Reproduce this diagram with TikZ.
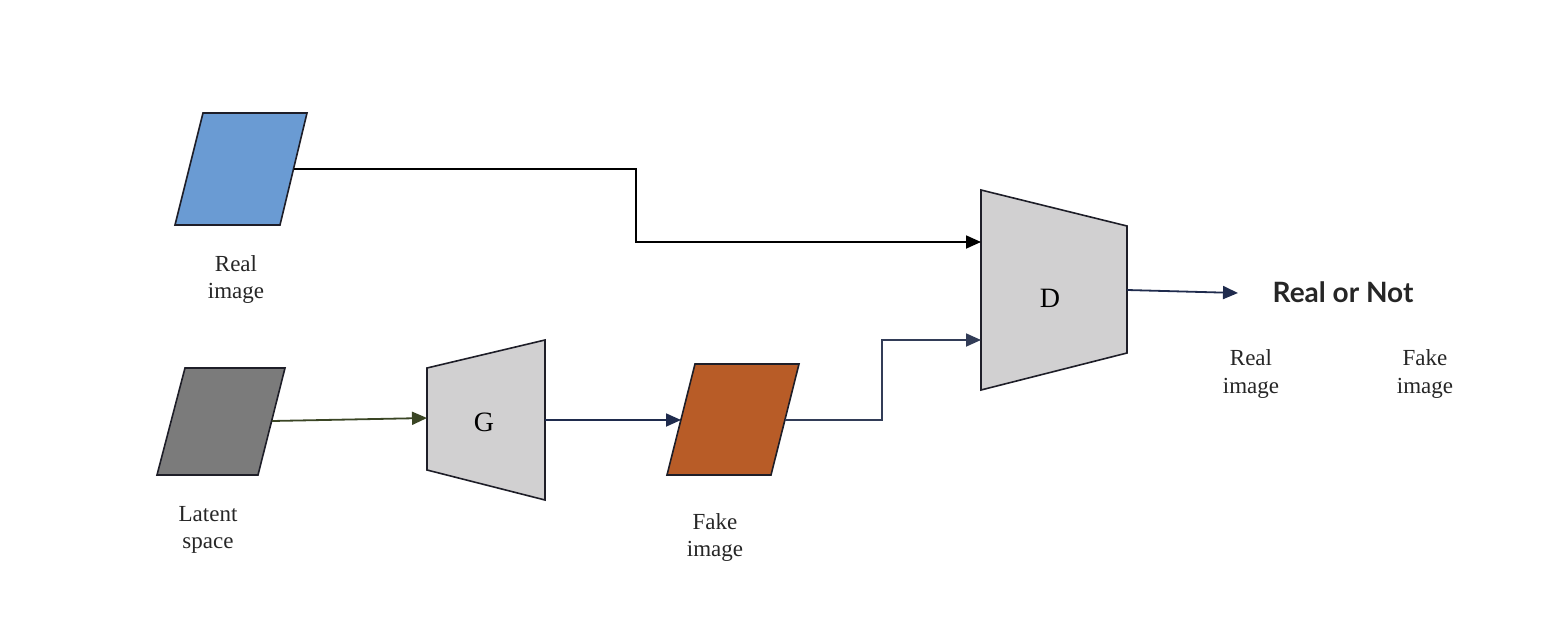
\documentclass[tikz,border=0pt]{standalone}
\usepackage{fontspec}
\setmainfont{Liberation Serif}
\newfontfamily\headfont{Lato}
\usetikzlibrary{arrows.meta}
\definecolor{realblue}{HTML}{6A9BD3}
\definecolor{latentgray}{HTML}{7B7B7B}
\definecolor{fakeorange}{HTML}{B85C27}
\definecolor{netgray}{HTML}{D1D0D1}
\definecolor{edgedark}{HTML}{1E1E28}
\definecolor{navy}{HTML}{1F2B4D}
\definecolor{olive}{HTML}{3A4524}
\tikzset{
  shapeedge/.style={draw=edgedark, line width=0.8pt, line join=miter},
  flow/.style={line width=0.9pt, -{Triangle[length=7.5pt,width=6.5pt]}},
  caption/.style={font=\fontsize{11.5}{13.5}\selectfont, align=center, text=black!85},
  netlabel/.style={font=\fontsize{14}{16}\selectfont},
}
\begin{document}
\begin{tikzpicture}[x=0.5pt,y=-0.5pt]
\useasboundingbox (0,0) rectangle (1558,626);

% input and generated samples (parallelograms)
\fill[realblue] (203,113) -- (307,113) -- (280,225) -- (175,225) -- cycle;
\draw[shapeedge] (203,113) -- (307,113) -- (280,225) -- (175,225) -- cycle;
\fill[latentgray] (185,368) -- (285,368) -- (258,475) -- (157,475) -- cycle;
\draw[shapeedge] (185,368) -- (285,368) -- (258,475) -- (157,475) -- cycle;
\fill[fakeorange] (695,364) -- (799,364) -- (771,475) -- (667,475) -- cycle;
\draw[shapeedge] (695,364) -- (799,364) -- (771,475) -- (667,475) -- cycle;

% generator and discriminator (trapezoids)
\draw[shapeedge, fill=netgray] (427,368) -- (545,340) -- (545,500) -- (427,470) -- cycle;
\draw[shapeedge, fill=netgray] (981,190) -- (1127,226) -- (1127,353) -- (981,390) -- cycle;

% named anchor points on the shapes
\coordinate (realOut) at (293.5,169);
\coordinate (latentOut) at (272,421);
\coordinate (genIn) at (427,418);
\coordinate (genOut) at (545,420);
\coordinate (fakeIn) at (681,420);
\coordinate (fakeOut) at (785,420);
\coordinate (discInA) at (981,242);
\coordinate (discInB) at (981,340);
\coordinate (discOut) at (1127,290);
\coordinate (verdict) at (1238,293);

% labels
\node[netlabel] (gLabel) at (484,422) {G};
\node[netlabel] (dLabel) at (1050,298) {D};
\node[caption] (realCap) at (236,280) {Real\\image};
\node[caption] (latentCap) at (208,530) {Latent\\space};
\node[caption] (fakeCap) at (715,537) {Fake\\image};
\node[font=\headfont\bfseries\fontsize{14}{16}\selectfont, text=black!85] (result) at (1343,292) {Real or Not};
\node[caption] (realOpt) at (1251,374) {Real\\image};
\node[caption] (fakeOpt) at (1425,374) {Fake\\image};

% connectors
\draw[flow, black] (realOut) -- (636,169) |- (discInA);
\draw[flow, olive] (latentOut) -- (genIn);
\draw[flow, navy] (genOut) -- (fakeIn);
\draw[flow, navy!80!gray] (fakeOut) -- (882,420) |- (discInB);
\draw[flow, navy] (discOut) -- (verdict);
\end{tikzpicture}
\end{document}
